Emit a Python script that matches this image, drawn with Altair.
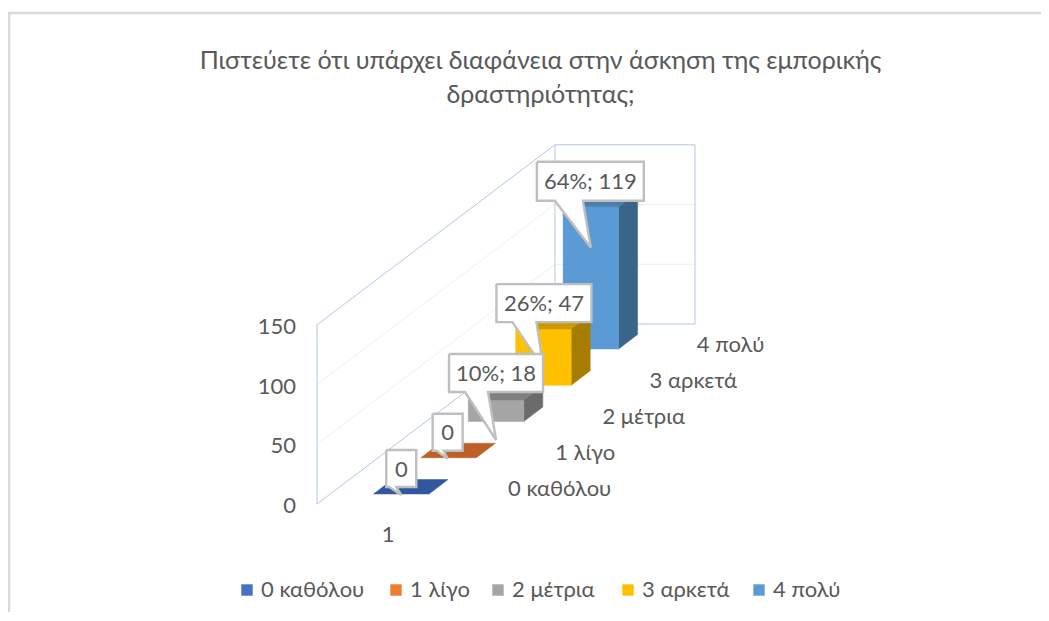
import altair as alt
import pandas as pd

# ---- chart values ----
TITLE = ["Πιστεύετε ότι υπάρχει διαφάνεια στην άσκηση της εμπορικής", "δραστηριότητας;"]
CATEGORIES = ["0 καθόλου", "1 λίγο", "2 μέτρια", "3 αρκετά", "4 πολύ"]
VALUES = [0, 0, 18, 47, 119]
LABELS = ["0", "0", "10%; 18", "26%; 47", "64%; 119"]
Y_TICKS = [0, 50, 100, 150]
SERIES_LABEL = ["1"]

# ---- colours ----
LEGEND_COL = ["#4472C4", "#ED7D31", "#A5A5A5", "#FFC000", "#5B9BD5"]
TOP_COL = ["#31589F", "#BC6026", "#808080", "#CC9A00", "#4A7EAE"]
SIDE_COL = ["#2A4A86", "#9C4F1F", "#6B6B6B", "#A67D00", "#3B6588"]
WALL = "#B4C7E7"
GRID = "#EFEFEF"
TEXT = "#595959"
BORDER = "#BFBFBF"
FRAME = "#D9D9D9"
FONT = "Lato"
LABEL_SIZE = 22
TITLE_SIZE = 25

W, H = 1033, 604
X = alt.X("x:Q", axis=None, scale=alt.Scale(domain=[8, 8 + W], nice=False, zero=False))
Y = alt.Y("y:Q", axis=None, scale=alt.Scale(domain=[8 + H, 8], nice=False, zero=False))


# ---- oblique projection of (category, depth, side, value) ----
UNIT = 1.195


def bx(i, d, w):
    return 373.5 + 47.4 * i + 55.5 * w + 19 * d


def by(i, d, v):
    return 494 - 36.25 * i - UNIT * v - 14.5 * d


def wx(d):
    return 317 + 238 * d


def wy(d, v):
    return 504 - 180 * d - UNIT * v


def poly(points, fill=None, stroke=None, sw=1.0):
    df = pd.DataFrame(points, columns=["x", "y"])
    df["o"] = range(len(df))
    kw = {"strokeWidth": sw, "strokeJoin": "miter", "interpolate": "linear", "clip": False}
    kw["stroke"] = stroke if stroke else "transparent"
    if fill:
        kw["fill"] = fill
    return alt.Chart(df).mark_line(**kw).encode(x=X, y=Y, order="o:Q")


def text(rows, size=LABEL_SIZE, align="center", color=TEXT):
    df = pd.DataFrame(rows, columns=["x", "y", "t"])
    return alt.Chart(df).mark_text(
        font=FONT, fontSize=size, align=align, baseline="middle", color=color
    ).encode(x=X, y=Y, text="t:N")


layers = []

# outer frame
layers.append(poly([(9, 1000), (9, 13), (1100, 13)], stroke=FRAME, sw=2.5))

# walls and gridlines
vmax = max(Y_TICKS)
for v in Y_TICKS[1:-1]:
    layers.append(poly([(wx(0), wy(0, v)), (wx(1), wy(1, v)), (695, wy(1, v))], stroke=GRID))
layers.append(poly([(wx(0), wy(0, 0)), (wx(1), wy(1, 0)), (695, wy(1, 0)), (695, wy(1, vmax)),
                    (wx(1), wy(1, vmax)), (wx(0), wy(0, vmax)), (wx(0), wy(0, 0))], stroke=WALL))
layers.append(poly([(wx(1), wy(1, 0)), (wx(1), wy(1, vmax))], stroke=WALL))

# bars, front rows drawn on top
for i in range(len(VALUES) - 1, -1, -1):
    v = VALUES[i]
    side = [(bx(i, 0, 1), by(i, 0, 0)), (bx(i, 1, 1), by(i, 1, 0)), (bx(i, 1, 1), by(i, 1, v)),
            (bx(i, 0, 1), by(i, 0, v))]
    top = [(bx(i, 0, 0), by(i, 0, v)), (bx(i, 0, 1), by(i, 0, v)), (bx(i, 1, 1), by(i, 1, v)),
           (bx(i, 1, 0), by(i, 1, v))]
    front = [(bx(i, 0, 0), by(i, 0, 0)), (bx(i, 0, 1), by(i, 0, 0)), (bx(i, 0, 1), by(i, 0, v)),
             (bx(i, 0, 0), by(i, 0, v))]
    if v > 0:
        layers.append(poly(side + side[:1], fill=SIDE_COL[i], stroke=SIDE_COL[i], sw=0.5))
        layers.append(poly(front + front[:1], fill=LEGEND_COL[i], stroke=LEGEND_COL[i], sw=0.5))
    layers.append(poly(top + top[:1], fill=TOP_COL[i], stroke=TOP_COL[i], sw=0.5))

# callouts: tip offset from bar front-top centre, box relative to the tip
TIP_DROP = [1, 1, 40, 39, 41]
TIP_DX = [0, -1, 0, 0, 0]
BOX_L = [-15, -15, -47, -47, -54]
BOX_R = [15, 15, 47, 48, 53]
BOX_TOP = [-45, -45, -86, -84, -86]
BOX_BOT = [-8, -8, -48, -46, -47]
TAIL_L = [-12, -11, -31, -31, -36]
TAIL_R = [-5, -4, -8, -7, -8]

for i in [4, 3, 2, 1, 0]:
    tx = bx(i, 0, 0.5) + TIP_DX[i]
    ty = by(i, 0, VALUES[i]) + TIP_DROP[i]
    l, r = tx + BOX_L[i], tx + BOX_R[i]
    t, b = ty + BOX_TOP[i], ty + BOX_BOT[i]
    a, c = tx + TAIL_L[i], tx + TAIL_R[i]
    outline = [(l, t), (r, t), (r, b), (c, b), (tx, ty), (a, b), (l, b), (l, t)]
    layers.append(poly(outline, fill="white", stroke=BORDER, sw=2.4))
    layers.append(text([((l + r) / 2, (t + b) / 2 + 1, LABELS[i])]))

# value axis labels
layers.append(text([(296, wy(0, v) + 2, str(v)) for v in Y_TICKS], align="right"))
# series axis label
layers.append(text([(388, 535, SERIES_LABEL[0])]))
# category (depth) axis labels
layers.append(text([(508 + 47.2 * i, 489 - 36 * i, c) for i, c in enumerate(CATEGORIES)],
                   align="left"))

# legend
LEG_SQ = [241, 390, 492, 622, 753]
for sx, col, lab in zip(LEG_SQ, LEGEND_COL, CATEGORIES):
    df = pd.DataFrame({"x": [sx + 6], "y": [590], "c": [lab]})
    layers.append(alt.Chart(df).mark_point(shape="square", filled=True, size=130, color=col, opacity=1)
                  .encode(x=X, y=Y))
    layers.append(text([(sx + 20, 590, lab)], align="left"))

chart = alt.layer(*layers).properties(
    width=W, height=H, padding=0, autosize=alt.AutoSizeParams(type="none"),
    title=alt.TitleParams(TITLE, fontSize=TITLE_SIZE, font=FONT, color=TEXT, fontWeight="normal",
                          anchor="middle", frame="group", dx=16, dy=104, lineHeight=34),
    background="white",
).configure_view(stroke=None)

chart.save("out.html", embed_options={"renderer": "svg", "actions": False})
